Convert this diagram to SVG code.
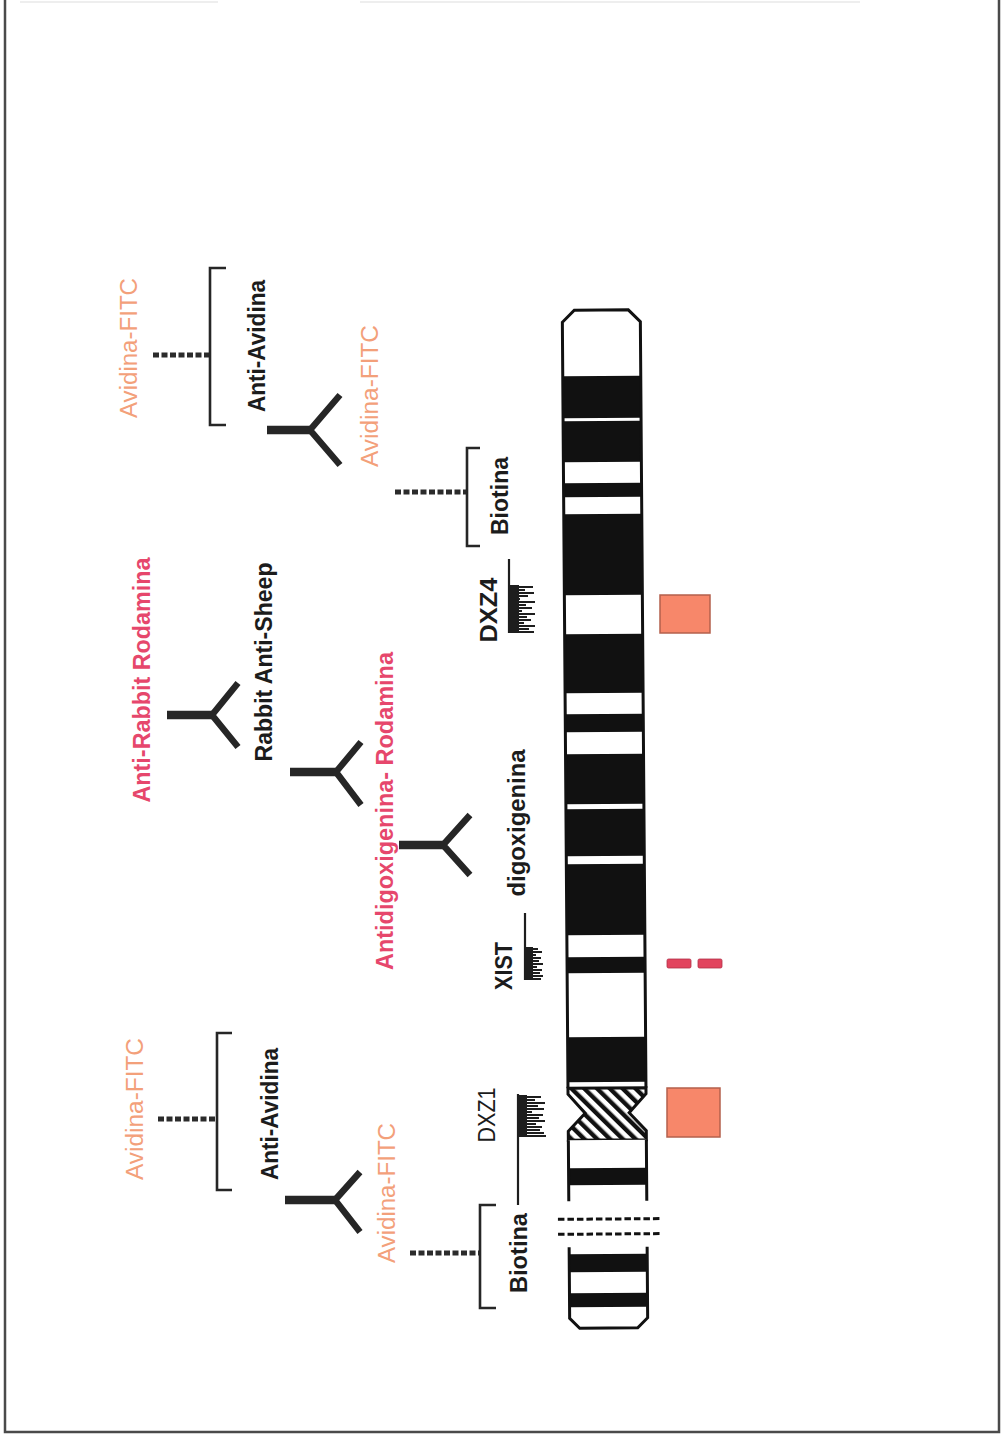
<svg xmlns="http://www.w3.org/2000/svg" xmlns:xlink="http://www.w3.org/1999/xlink" width="1004" height="1440" viewBox="0 0 1004 1440">
  <style>
    .lbl { font-family: "Liberation Sans", Arial, Helvetica, sans-serif; font-size: 23px; font-weight: bold; fill: #1c1c1c; }
    .fitc { font-weight: normal; fill: #F3A07A; }
    .rod { fill: #E6476C; }
    .thin { font-weight: normal; }
    .chain { stroke: #2b2b2b; stroke-width: 5; stroke-dasharray: 6 2.5; fill: none; }
    .bracket { stroke: #262626; stroke-width: 2.6; fill: none; }
    .stem { stroke: #262626; stroke-width: 8.5; }
    .arms { stroke: #262626; stroke-width: 6.5; fill: none; stroke-linejoin: miter; }
    .probe { stroke: #1e1e1e; stroke-width: 2.2; fill: none; }
    .teeth { stroke: #1e1e1e; stroke-width: 2; }
    .band { fill: #111; }
    .outline { stroke: #111; stroke-width: 3; }
    .sig { fill: #F7876A; stroke: #b4604c; stroke-width: 1.5; }
    .xsig { fill: #E2445E; stroke: #b03048; stroke-width: 0.8; }
  </style>
  <defs>
    <pattern id="hatch" patternUnits="userSpaceOnUse" width="9" height="9" patternTransform="rotate(-45)">
      <rect width="9" height="9" fill="#fff"/>
      <rect x="0" y="0" width="4.4" height="9" fill="#111"/>
    </pattern>
  </defs>

  <rect width="1004" height="1440" fill="#fff"/>

  <!-- page frame -->
  <path d="M5,0 V1432 H999 V0" fill="none" stroke="#4a4a4a" stroke-width="2.5"/>
  <path d="M20,2 H218 M360,2 H860" stroke="#eeeeee" stroke-width="2"/>

  <!-- X chromosome ideogram -->
  <g id="chromosome" transform="rotate(-0.42 605 819)">
    <path d="M566,1088 V322 L578,310 H632 L644,322 V1088 Z" fill="#fff"/>
    <rect class="band" x="566" y="376" width="78" height="42"/>
    <rect class="band" x="566" y="421" width="78" height="41"/>
    <rect class="band" x="566" y="483" width="78" height="14"/>
    <rect class="band" x="566" y="514" width="78" height="81"/>
    <rect class="band" x="566" y="634" width="78" height="59"/>
    <rect class="band" x="566" y="714" width="78" height="18"/>
    <rect class="band" x="566" y="754" width="78" height="50"/>
    <rect class="band" x="566" y="809" width="78" height="47"/>
    <rect class="band" x="566" y="864" width="78" height="71"/>
    <rect class="band" x="566" y="957" width="78" height="16"/>
    <rect class="band" x="566" y="1037" width="78" height="45"/>
    <path class="outline" d="M566,1088 V322 L578,310 H632 L644,322 V1088" fill="none"/>
    <!-- centromere -->
    <polygon points="566,1088 644,1088 644,1094 627,1113 644,1131 644,1140 566,1140 566,1131 583,1113 566,1094" fill="url(#hatch)" class="outline" stroke-linejoin="miter"/>
    <!-- proximal long arm segment -->
    <rect x="566" y="1140" width="78" height="61" fill="#fff"/>
    <rect class="band" x="566" y="1168" width="78" height="17"/>
    <path class="outline" d="M566,1140 V1201 M644,1140 V1201" fill="none"/>
    <!-- break marks -->
    <path d="M555,1219 H657 M555,1234 H657" stroke="#111" stroke-width="3" stroke-dasharray="6.5 3" fill="none"/>
    <!-- distal long arm segment -->
    <path d="M566,1247 V1318 L576,1328 H634 L644,1318 V1247 Z" fill="#fff"/>
    <rect class="band" x="566" y="1254" width="78" height="18"/>
    <rect class="band" x="566" y="1293" width="78" height="14"/>
    <path class="outline" d="M566,1247 V1318 L576,1328 H634 L644,1318 V1247" fill="none"/>
  </g>

  <!-- hybridisation signals -->
  <g id="signal-dxz4"><rect class="sig" x="660" y="595" width="50" height="38"/></g>
  <g id="signal-xist">
    <rect class="xsig" x="667" y="959" width="24" height="9" rx="1.5"/>
    <rect class="xsig" x="698" y="959" width="24" height="9" rx="1.5"/>
  </g>
  <g id="signal-dxz1"><rect class="sig" x="667" y="1088" width="53" height="49"/></g>

  <!-- probes -->
  <g id="probe-dxz4">
    <line class="probe" x1="509" y1="559" x2="509" y2="633"/>
    <rect x="509" y="585" width="10" height="48" fill="#1e1e1e"/>
    <path class="teeth" d="M509,587H533 M509,590H525 M509,593H534 M509,596H528 M509,599H520 M509,602H535 M509,605H526 M509,608H532 M509,611H522 M509,614H535 M509,617H527 M509,620H531 M509,623H524 M509,626H535 M509,629H529 M509,632H534"/>
    <text class="lbl" transform="translate(497,610) rotate(-90)" text-anchor="middle" textLength="65" lengthAdjust="spacingAndGlyphs">DXZ4</text>
  </g>
  <g id="probe-xist">
    <line class="probe" x1="525" y1="913" x2="525" y2="980"/>
    <rect x="525" y="947" width="8" height="33" fill="#1e1e1e"/>
    <path class="teeth" d="M525,949H538 M525,952H542 M525,955H536 M525,958H541 M525,961H539 M525,964H543 M525,967H537 M525,970H542 M525,973H540 M525,976H543 M525,979H541"/>
    <text class="lbl" transform="translate(512,966) rotate(-90)" text-anchor="middle" textLength="48" lengthAdjust="spacingAndGlyphs">XIST</text>
  </g>
  <g id="probe-dxz1">
    <line class="probe" x1="518" y1="1094" x2="518" y2="1205"/>
    <rect x="518" y="1095" width="9" height="42" fill="#1e1e1e"/>
    <path class="teeth" d="M518,1097H541 M518,1100H535 M518,1103H545 M518,1106H538 M518,1109H544 M518,1112H532 M518,1115H543 M518,1118H539 M518,1121H545 M518,1124H536 M518,1127H542 M518,1130H540 M518,1133H544 M518,1136H546"/>
    <text class="lbl thin" transform="translate(495,1115) rotate(-90)" text-anchor="middle" textLength="55" lengthAdjust="spacingAndGlyphs">DXZ1</text>
  </g>

  <!-- detection cascade for DXZ4 (biotin / avidin) -->
  <g id="biotin-top">
    <path class="chain" d="M395,492 H467"/>
    <path class="bracket" d="M480,448 H467 V546 H480"/>
    <text class="lbl" transform="translate(508,496) rotate(-90)" text-anchor="middle" textLength="78" lengthAdjust="spacingAndGlyphs">Biotina</text>
  </g>
  <g id="avidin-fitc-top-2">
    <text class="lbl fitc" transform="translate(378,396) rotate(-90)" text-anchor="middle" textLength="142" lengthAdjust="spacingAndGlyphs">Avidina-FITC</text>
  </g>
  <g id="anti-avidin-top">
    <line class="stem" x1="267" y1="430" x2="312" y2="430"/>
    <path class="arms" d="M340,395 L310,430 L340,465"/>
    <text class="lbl" transform="translate(265,346) rotate(-90)" text-anchor="middle" textLength="132" lengthAdjust="spacingAndGlyphs">Anti-Avidina</text>
  </g>
  <g id="avidin-fitc-top-1">
    <path class="chain" d="M153,355 H210"/>
    <path class="bracket" d="M226,268 H210 V425 H226"/>
    <text class="lbl fitc" transform="translate(137,348) rotate(-90)" text-anchor="middle" textLength="140" lengthAdjust="spacingAndGlyphs">Avidina-FITC</text>
  </g>

  <!-- detection cascade for XIST (digoxigenin / rhodamine) -->
  <g id="digoxigenin">
    <text class="lbl" transform="translate(525,823) rotate(-90)" text-anchor="middle" textLength="147" lengthAdjust="spacingAndGlyphs">digoxigenina</text>
  </g>
  <g id="anti-dig-rhodamine">
    <line class="stem" x1="399" y1="845" x2="445" y2="845"/>
    <path class="arms" d="M470,815 L443,845 L470,875"/>
    <text class="lbl rod" transform="translate(393,811) rotate(-90)" text-anchor="middle" textLength="318" lengthAdjust="spacingAndGlyphs">Antidigoxigenina- Rodamina</text>
  </g>
  <g id="rabbit-anti-sheep">
    <line class="stem" x1="290" y1="772" x2="338" y2="772"/>
    <path class="arms" d="M361,742 L336,772 L361,805"/>
    <text class="lbl" transform="translate(272,662) rotate(-90)" text-anchor="middle" textLength="199" lengthAdjust="spacingAndGlyphs">Rabbit Anti-Sheep</text>
  </g>
  <g id="anti-rabbit-rhodamine">
    <line class="stem" x1="167" y1="715" x2="214" y2="715"/>
    <path class="arms" d="M238,683 L212,715 L238,747"/>
    <text class="lbl rod" transform="translate(150,680) rotate(-90)" text-anchor="middle" textLength="245" lengthAdjust="spacingAndGlyphs">Anti-Rabbit Rodamina</text>
  </g>

  <!-- detection cascade for DXZ1 (biotin / avidin) -->
  <g id="biotin-bottom">
    <path class="chain" d="M410,1253 H480"/>
    <path class="bracket" d="M496,1205 H480 V1308 H496"/>
    <text class="lbl" transform="translate(527,1253) rotate(-90)" text-anchor="middle" textLength="80" lengthAdjust="spacingAndGlyphs">Biotina</text>
  </g>
  <g id="avidin-fitc-bottom-2">
    <text class="lbl fitc" transform="translate(395,1193) rotate(-90)" text-anchor="middle" textLength="140" lengthAdjust="spacingAndGlyphs">Avidina-FITC</text>
  </g>
  <g id="anti-avidin-bottom">
    <line class="stem" x1="285" y1="1200" x2="337" y2="1200"/>
    <path class="arms" d="M360,1172 L335,1200 L360,1232"/>
    <text class="lbl" transform="translate(278,1114) rotate(-90)" text-anchor="middle" textLength="132" lengthAdjust="spacingAndGlyphs">Anti-Avidina</text>
  </g>
  <g id="avidin-fitc-bottom-1">
    <path class="chain" d="M158,1119 H217"/>
    <path class="bracket" d="M232,1033 H217 V1190 H232"/>
    <text class="lbl fitc" transform="translate(143,1109) rotate(-90)" text-anchor="middle" textLength="142" lengthAdjust="spacingAndGlyphs">Avidina-FITC</text>
  </g>
</svg>
